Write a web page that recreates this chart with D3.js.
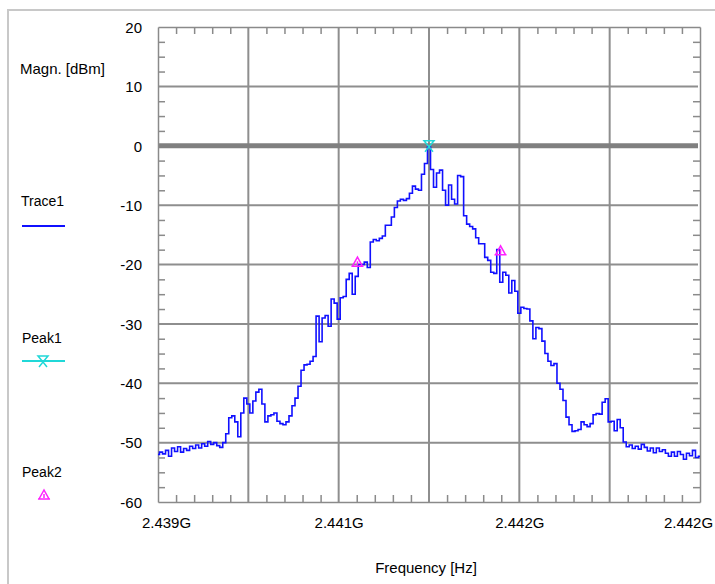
<!DOCTYPE html>
<html><head><meta charset="utf-8">
<script src="https://cdn.jsdelivr.net/npm/d3@7"></script>
<style>
body{margin:0;background:#fff}
svg{display:block}
text{font-family:"Liberation Sans",Arial,sans-serif;fill:#000}
</style>
</head><body>
<svg id="c" width="715" height="584"></svg>
<script>
// ---- data ----
const freqStartMHz = 2439.0;
const freqStopMHz = 2444.0;
const trace1 = [
 -52.0,-51.6,-51.9,-51.3,-52.3,-50.9,-51.5,-50.7,-51.6,-51.0,-51.3,-50.6,-51.0,-50.4,-50.9,-50.2,-50.6,-49.8,-50.3,-50.0,-50.5,-50.8,-50.0,
 -48.5,-45.8,-45.5,-46.5,-49.0,-45.0,-42.5,-43.5,-45.0,-43.0,-41.5,-41.0,-43.5,-46.5,-45.5,-45.3,-45.0,-46.4,-46.8,-47.0,-46.5,-45.5,-43.8,-42.5,-40.5,-37.8,-36.9,-36.8,-36.3,-35.5,
 -28.7,-33.0,-29.0,-28.6,-30.4,-25.8,-26.5,-29.2,-25.6,-25.4,-22.5,-21.5,-25.0,-22.0,-20.0,-20.0,-19.6,-20.5,-16.2,-15.8,-16.0,-15.6,-15.2,-13.4,-13.4,
 -12.0,-10.4,-9.3,-9.0,-9.2,-8.9,-8.0,-6.8,-7.3,-7.5,-4.8,-3.0,-0.2,-4.0,-7.0,-4.6,-4.1,-7.5,-10.0,-6.6,-9.0,-9.8,-5.0,-5.2,-11.8,-13.2,-13.6,-14.0,-15.5,-16.5,
 -16.5,-18.8,-19.3,-21.3,-21.5,-17.5,-23.0,-21.3,-21.8,-24.8,-22.7,-24.5,-28.2,-27.2,-27.4,-27.5,-29.5,-32.5,-30.6,-30.8,-32.9,-35.0,-36.3,-37.0,-36.7,-40.0,-41.0,-42.9,-45.7,-47.0,-48.1,-48.0,-47.8,
 -46.5,-47.0,-47.3,-46.8,-45.3,-45.1,-45.2,-43.2,-42.6,-46.5,-46.4,-48.0,-46.1,-47.5,-49.9,-50.7,-50.4,-51.0,-50.6,-51.1,-50.3,-50.8,-51.4,-50.9,-51.7,-50.9,-51.5,-51.2,-51.8,-52.3,-51.6,-52.3,-51.5,-52.0,-52.8,-51.8,-52.2,-51.3,-52.5,-52.3
];
const peak1Freq = [2441.5];
const peak1Level = [0];
const peak2Freq = [2440.84, 2442.16];
const peak2Level = [-19.6, -17.7];
const yTicks = [20, 10, 0, -10, -20, -30, -40, -50, -60];
const xTickLabels = ["2.439G", "2.441G", "2.442G", "2.442G"];
const legendNames = ["Trace1", "Peak1", "Peak2"];
const yTitle = "Magn. [dBm]";
const xTitle = "Frequency [Hz]";

// ---- layout ----
const L = 158, R = 700, T = 27, B = 502;
const svg = d3.select("#c");
const x = d3.scaleLinear().domain([freqStartMHz, freqStopMHz]).range([L, R]);
const y = d3.scaleLinear().domain([-60, 20]).range([B, T]);
const gridCol = "#8e8e8e";
const font = "'Liberation Sans', Arial, sans-serif";

// outer frame
svg.append("path").attr("d", "M8,584V10H715").attr("fill", "none")
  .attr("stroke", "#c8c8c8").attr("stroke-width", 2);

const xDiv = 6;
const xGrid = d3.range(xDiv + 1).map(k => freqStartMHz + k * (freqStopMHz - freqStartMHz) / xDiv);
const xMinor = d3.range(xDiv * 5 + 1).map(k => freqStartMHz + k * (freqStopMHz - freqStartMHz) / (xDiv * 5)).filter((d, k) => k % 5 !== 0);
const yMinor = d3.range(-60, 20.01, 2.5).filter(v => v % 10 !== 0);

// grid
svg.append("g").selectAll("line").data(xGrid.slice(1, -1)).join("line")
  .attr("x1", d => x(d)).attr("x2", d => x(d)).attr("y1", T).attr("y2", B)
  .attr("stroke", gridCol).attr("stroke-width", 2);
svg.append("g").selectAll("line").data(yTicks.filter(v => v !== 20 && v !== -60)).join("line")
  .attr("x1", L).attr("x2", R - 2).attr("y1", d => y(d)).attr("y2", d => y(d))
  .attr("stroke", d => d === 0 ? "#808080" : gridCol).attr("stroke-width", d => d === 0 ? 5 : 2);

// minor ticks on all four sides (inside)
function styleAxis(g) {
  g.selectAll(".domain").attr("stroke", "#8a8a8a").attr("stroke-width", 1.5);
  g.selectAll(".tick line").attr("stroke", "#8a8a8a").attr("stroke-width", 1.5);
  g.selectAll("text").remove();
}
svg.append("g").attr("transform", `translate(${L},0)`)
  .call(d3.axisLeft(y).tickValues(yMinor).tickSize(-7).tickSizeOuter(0)).call(styleAxis);
svg.append("g").attr("transform", `translate(${R},0)`)
  .call(d3.axisRight(y).tickValues(yMinor).tickSize(-7).tickSizeOuter(0)).call(styleAxis);
svg.append("g").attr("transform", `translate(0,${T})`)
  .call(d3.axisTop(x).tickValues(xMinor).tickSize(-7).tickSizeOuter(0)).call(styleAxis);
svg.append("g").attr("transform", `translate(0,${B})`)
  .call(d3.axisBottom(x).tickValues(xMinor).tickSize(-7).tickSizeOuter(0)).call(styleAxis);

// y tick labels
const yAx = svg.append("g").attr("transform", `translate(${L},0)`)
  .call(d3.axisLeft(y).tickValues(yTicks).tickSize(0).tickPadding(16).tickFormat(d => String(d)));
yAx.select(".domain").remove();
yAx.selectAll("text").attr("font-size", 15).attr("font-family", font).attr("fill", "#000")
  .attr("dy", "0.35em");

// x tick labels
const xLabelFreqs = xGrid.filter((d, k) => k % 2 === 0);
const xAx = svg.append("g").attr("transform", `translate(0,${B})`)
  .call(d3.axisBottom(x).tickValues(xLabelFreqs).tickSize(0).tickPadding(0).tickFormat((d, i) => xTickLabels[i]));
xAx.select(".domain").remove();
xAx.selectAll("text").attr("font-size", 15).attr("font-family", font).attr("fill", "#000")
  .attr("y", 26).attr("dy", 0)
  .attr("dx", (d, i) => i === 0 ? 8 : (i === xLabelFreqs.length - 1 ? -12 : 0));

// titles
svg.append("text").attr("x", 20).attr("y", 74).attr("font-size", 15).text(yTitle);
svg.append("text").attr("x", (L + R) / 2 - 3).attr("y", 573).attr("text-anchor", "middle")
  .attr("font-size", 15).text(xTitle);

// trace
const step = (freqStopMHz - freqStartMHz) / (trace1.length - 1);
const line = d3.line().x((d, i) => x(freqStartMHz + i * step)).y(d => y(d)).curve(d3.curveStep);
svg.append("path").datum(trace1).attr("d", line).attr("fill", "none")
  .attr("stroke", "#1010ff").attr("stroke-width", 1.6).attr("stroke-linejoin", "miter");

// markers
const peak1Sym = "M-5,-5H5L0,1Z M0,1L-4,6 M0,1L4,6";
const peak2Sym = "M-5,4L0,-5L5,4Z M-6,4H6 M0,-1V3";
const cyan = "#20d8d8", magenta = "#ff20ff";
svg.append("g").selectAll("path").data(peak1Freq).join("path")
  .attr("transform", (d, i) => `translate(${x(d)},${y(peak1Level[i])})`)
  .attr("d", peak1Sym).attr("fill", "none").attr("stroke", cyan).attr("stroke-width", 1.5);
svg.append("g").selectAll("path").data(peak2Freq).join("path")
  .attr("transform", (d, i) => `translate(${x(d)},${y(peak2Level[i])})`)
  .attr("d", peak2Sym).attr("fill", "none").attr("stroke", magenta).attr("stroke-width", 1.5);

// legend
const lg = svg.append("g");
lg.append("text").attr("x", 21).attr("y", 206).attr("font-size", 14).text(legendNames[0]);
lg.append("line").attr("x1", 22).attr("x2", 65).attr("y1", 226).attr("y2", 226)
  .attr("stroke", "#1010ff").attr("stroke-width", 2);
lg.append("text").attr("x", 22).attr("y", 343).attr("font-size", 14).text(legendNames[1]);
lg.append("line").attr("x1", 22).attr("x2", 65).attr("y1", 361).attr("y2", 361)
  .attr("stroke", cyan).attr("stroke-width", 2);
lg.append("path").attr("transform", "translate(43,361)").attr("d", peak1Sym)
  .attr("fill", "none").attr("stroke", cyan).attr("stroke-width", 1.5);
lg.append("text").attr("x", 22).attr("y", 477).attr("font-size", 14).text(legendNames[2]);
lg.append("path").attr("transform", "translate(44,495)").attr("d", peak2Sym)
  .attr("fill", "none").attr("stroke", magenta).attr("stroke-width", 1.5);
</script>
</body></html>
